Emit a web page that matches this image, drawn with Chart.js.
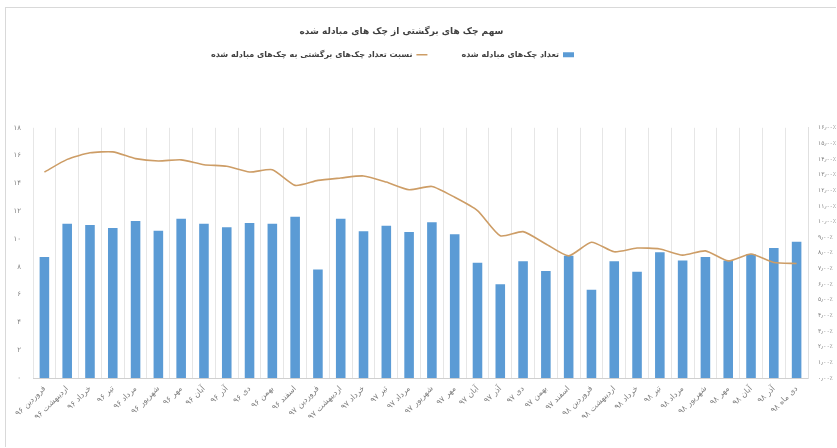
<!DOCTYPE html>
<html>
<head>
<meta charset="utf-8">
<script src="https://cdn.jsdelivr.net/npm/chart.js@4/dist/chart.umd.min.js"></script>
<style>
    html, body { margin: 0; padding: 0; background: #fff; }
    .frame {
        position: absolute;
        left: 5px; top: 7px;
        width: 830px; height: 439px;
        border-top: 1px solid #d9d9d9;
        border-left: 1px solid #d9d9d9;
    }
    #chart { position: absolute; left: 0; top: 0; }
</style>
</head>
<body>
<div class="frame"></div>
<canvas id="chart" width="837" height="448"></canvas>
<script>
const months = [
    'فروردین ۹۶', 'اردیبهشت ۹۶', 'خرداد ۹۶', 'تیر ۹۶', 'مرداد ۹۶', 'شهریور ۹۶',
    'مهر ۹۶', 'آبان ۹۶', 'آذر ۹۶', 'دی ۹۶', 'بهمن ۹۶', 'اسفند ۹۶',
    'فروردین ۹۷', 'اردیبهشت ۹۷', 'خرداد ۹۷', 'تیر ۹۷', 'مرداد ۹۷', 'شهریور ۹۷',
    'مهر ۹۷', 'آبان ۹۷', 'آذر ۹۷', 'دی ۹۷', 'بهمن ۹۷', 'اسفند ۹۷',
    'فروردین ۹۸', 'اردیبهشت ۹۸', 'خرداد ۹۸', 'تیر ۹۸', 'مرداد ۹۸', 'شهریور ۹۸',
    'مهر ۹۸', 'آبان ۹۸', 'آذر ۹۸', 'دی ماه ۹۸'
];

// exchanged cheques (million)
const exchanged = [
    8.7, 11.1, 11.0, 10.8, 11.3, 10.6, 11.45, 11.1, 10.85, 11.15, 11.1, 11.6,
    7.8, 11.45, 10.55, 10.95, 10.5, 11.2, 10.35, 8.3, 6.75, 8.4, 7.7, 8.8,
    6.35, 8.4, 7.65, 9.05, 8.45, 8.7, 8.45, 8.9, 9.35, 9.8
];

// returned / exchanged (%)
const returnedRatio = [
    13.17, 13.98, 14.4, 14.46, 14.03, 13.88, 13.95, 13.64, 13.54, 13.17, 13.32, 12.32,
    12.64, 12.79, 12.92, 12.53, 12.04, 12.25, 11.56, 10.71, 9.1, 9.36, 8.57, 7.81,
    8.68, 8.07, 8.31, 8.25, 7.86, 8.13, 7.49, 7.93, 7.39, 7.32
];

const chartTitle = 'سهم چک های برگشتی از چک های مبادله شده';
const barLabel = 'تعداد چک‌های مبادله شده';
const lineLabel = 'نسبت تعداد چک‌های برگشتی به چک‌های مبادله شده';

const colors = {
    bar: '#5B9BD5',
    line: '#CD9D66',
    grid: '#e6e6e6',
    tick: '#7f7f7f',
    text: '#404040'
};

const faDigits = '۰۱۲۳۴۵۶۷۸۹';
function toFa(s) {
    return String(s).replace(/\d/g, d => faDigits[d]).replace('.', '٫');
}

const fontFamily = "'DejaVu Sans', sans-serif";

// extra room under the legend, and nudge title / legend a bit to the left
const headerTweaks = {
    id: 'headerTweaks',
    beforeInit(chart) {
        const fit = chart.legend.fit;
        chart.legend.fit = function() {
            fit.bind(chart.legend)();
            this.height += 59;
        };
    },
    afterLayout(chart) {
        chart.titleBlock.left -= 17;
        chart.titleBlock.right -= 17;
        chart.legend.left -= 26;
        chart.legend.right -= 26;
    }
};

new Chart(document.getElementById('chart'), {
    data: {
        labels: months,
        datasets: [
            {
                type: 'bar',
                label: barLabel,
                data: exchanged,
                backgroundColor: colors.bar,
                borderWidth: 0,
                categoryPercentage: 1,
                barPercentage: 0.42,
                yAxisID: 'y',
                order: 2,
                pointStyle: 'rect'
            },
            {
                type: 'line',
                label: lineLabel,
                data: returnedRatio,
                borderColor: colors.line,
                backgroundColor: colors.line,
                borderWidth: 1.6,
                pointRadius: 0,
                tension: 0.2,
                yAxisID: 'y1',
                order: 1,
                pointStyle: 'line'
            }
        ]
    },
    options: {
        responsive: false,
        animation: false,
        layout: { padding: { left: 0, right: 0, top: 14, bottom: 0 } },
        plugins: {
            title: {
                display: true,
                text: chartTitle,
                color: colors.text,
                font: { family: fontFamily, size: 9, weight: 'bold' },
                padding: { top: 12, bottom: -20 }
            },
            legend: {
                rtl: true,
                labels: {
                    usePointStyle: true,
                    pointStyleWidth: 11,
                    boxHeight: 5,
                    color: colors.text,
                    font: { family: fontFamily, size: 8, weight: 'bold' },
                    padding: 34,
                    sort: (a, b) => a.datasetIndex - b.datasetIndex
                }
            },
            tooltip: { enabled: false }
        },
        scales: {
            x: {
                offset: true,
                grid: { display: true, offset: true, color: colors.grid, drawTicks: false },
                border: { display: true, color: '#d0d0d0' },
                ticks: {
                    autoSkip: false,
                    minRotation: 45,
                    maxRotation: 45,
                    color: colors.tick,
                    padding: 6,
                    font: { family: fontFamily, size: 8 }
                },
                afterFit: scale => { scale.height = 70; }
            },
            y: {
                position: 'left',
                min: 0,
                max: 18,
                grid: { display: false },
                border: { display: false },
                ticks: {
                    stepSize: 2,
                    color: colors.tick,
                    padding: 4,
                    font: { family: fontFamily, size: 7 },
                    callback: v => toFa(v)
                },
                afterFit: scale => { scale.width = 33; }
            },
            y1: {
                position: 'right',
                min: 0,
                max: 16,
                grid: { display: false, drawOnChartArea: false },
                border: { display: true, color: '#e0e0e0' },
                ticks: {
                    stepSize: 1,
                    color: colors.tick,
                    padding: 2,
                    font: { family: fontFamily, size: 6 },
                    callback: v => toFa(v.toFixed(2)) + '٪'
                },
                afterFit: scale => { scale.width = 29; }
            }
        }
    },
    plugins: [headerTweaks]
});
</script>
</body>
</html>
